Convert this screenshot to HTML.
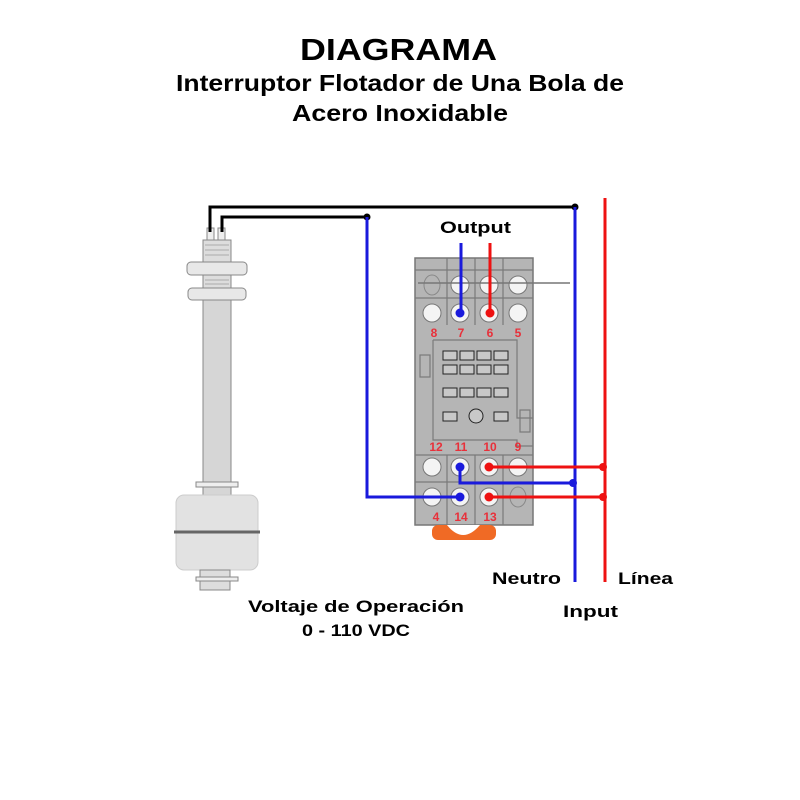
<!DOCTYPE html>
<html><head><meta charset="utf-8"><style>
html,body{margin:0;padding:0;background:#fff;}
svg{display:block}
text{font-family:"Liberation Sans",sans-serif;font-weight:bold;}
</style></head><body>
<svg width="800" height="800" viewBox="0 0 800 800" xmlns="http://www.w3.org/2000/svg">
<rect width="800" height="800" fill="#fff"/>
<text x="300" y="60" font-size="31" textLength="197" lengthAdjust="spacingAndGlyphs" fill="#000">DIAGRAMA</text>
<text x="176" y="91" font-size="23" textLength="448" lengthAdjust="spacingAndGlyphs" fill="#000">Interruptor Flotador de Una Bola de</text>
<text x="292" y="121" font-size="23" textLength="216" lengthAdjust="spacingAndGlyphs" fill="#000">Acero Inoxidable</text>

<!-- float switch -->
<g stroke="#888" stroke-width="1" fill="#e8e8e8">
<rect x="207" y="228" width="7" height="12" fill="#eee"/>
<rect x="218" y="228" width="7" height="12" fill="#eee"/>
<rect x="203" y="240" width="28" height="22" fill="#ddd"/>
<rect x="187" y="262" width="60" height="13" rx="4"/>
<rect x="203" y="275" width="28" height="13" fill="#ddd"/>
<rect x="188" y="288" width="58" height="12" rx="4"/>
<rect x="203" y="300" width="28" height="185" fill="#d6d6d6"/>
<rect x="196" y="482" width="42" height="5" fill="#eee"/>
<rect x="203" y="487" width="28" height="9" fill="#d6d6d6"/>
<rect x="176" y="495" width="82" height="75" rx="8" fill="#e2e2e2" stroke="#ccc"/>
<rect x="200" y="570" width="30" height="20" fill="#ddd"/>
<rect x="196" y="577" width="42" height="4" fill="#eee"/>
</g>
<line x1="174" y1="532" x2="260" y2="532" stroke="#666" stroke-width="3"/>
<g stroke="#999" stroke-width="0.8" fill="none">
<line x1="205" y1="245" x2="229" y2="245"/><line x1="205" y1="250" x2="229" y2="250"/><line x1="205" y1="255" x2="229" y2="255"/>
<line x1="205" y1="280" x2="229" y2="280"/><line x1="205" y1="284" x2="229" y2="284"/>
</g>

<!-- black wires -->
<polyline points="210,232 210,207 575,207" fill="none" stroke="#000" stroke-width="3"/>
<polyline points="222,232 222,217 367,217" fill="none" stroke="#000" stroke-width="3"/>
<circle cx="575" cy="207" r="3.5" fill="#000"/>
<circle cx="367" cy="217" r="3.5" fill="#000"/>

<!-- relay -->
<rect x="415" y="258" width="118" height="267" fill="#b5b5b5" stroke="#777" stroke-width="1.5"/>
<rect x="432" y="525" width="64" height="15" rx="6" fill="#f06a25"/>
<path d="M447 525 Q463 545 480 525" fill="#fff" stroke="none"/>
<g stroke="#7a7a7a" stroke-width="1.2" fill="none">
<line x1="447" y1="258" x2="447" y2="325"/><line x1="475" y1="258" x2="475" y2="325"/><line x1="503" y1="258" x2="503" y2="325"/>
<line x1="415" y1="298" x2="533" y2="298"/><line x1="415" y1="270" x2="533" y2="270"/>
<line x1="447" y1="455" x2="447" y2="525"/><line x1="475" y1="455" x2="475" y2="525"/><line x1="503" y1="455" x2="503" y2="525"/>
<line x1="415" y1="482" x2="533" y2="482"/><line x1="415" y1="455" x2="533" y2="455"/>
<path d="M433 340 H517 V418 H533 M433 340 V440 H517 V446 H533"/>
<rect x="420" y="355" width="10" height="22"/>
<rect x="520" y="410" width="10" height="22"/>
</g>
<g stroke="#222" stroke-width="1" fill="#c8c8c8">
<rect x="443" y="351" width="14" height="9"/><rect x="460" y="351" width="14" height="9"/><rect x="477" y="351" width="14" height="9"/><rect x="494" y="351" width="14" height="9"/>
<rect x="443" y="365" width="14" height="9"/><rect x="460" y="365" width="14" height="9"/><rect x="477" y="365" width="14" height="9"/><rect x="494" y="365" width="14" height="9"/>
<rect x="443" y="388" width="14" height="9"/><rect x="460" y="388" width="14" height="9"/><rect x="477" y="388" width="14" height="9"/><rect x="494" y="388" width="14" height="9"/>
<rect x="443" y="412" width="14" height="9"/><rect x="494" y="412" width="14" height="9"/>
<circle cx="476" cy="416" r="7"/>
</g>
<g stroke="#777" stroke-width="1" fill="#f4f4f4">
<circle cx="460" cy="285" r="9"/><circle cx="489" cy="285" r="9"/><circle cx="518" cy="285" r="9"/>
<circle cx="432" cy="313" r="9"/><circle cx="460" cy="313" r="9"/><circle cx="489" cy="313" r="9"/><circle cx="518" cy="313" r="9"/>
<circle cx="432" cy="467" r="9"/><circle cx="460" cy="467" r="9"/><circle cx="489" cy="467" r="9"/><circle cx="518" cy="467" r="9"/>
<circle cx="432" cy="497" r="9"/><circle cx="460" cy="497" r="9"/><circle cx="489" cy="497" r="9"/>
</g>
<ellipse cx="432" cy="285" rx="8" ry="10" fill="none" stroke="#888"/>
<ellipse cx="518" cy="497" rx="8" ry="10" fill="none" stroke="#888"/>
<line x1="418" y1="283" x2="570" y2="283" stroke="#777" stroke-width="1.5"/>
<g fill="#e8303a" font-size="12" text-anchor="middle" style="font-weight:normal">
<text x="434" y="337">8</text><text x="461" y="337">7</text><text x="490" y="337">6</text><text x="518" y="337">5</text>
<text x="436" y="451">12</text><text x="461" y="451">11</text><text x="490" y="451">10</text><text x="518" y="451">9</text>
<text x="436" y="521">4</text><text x="461" y="521">14</text><text x="490" y="521">13</text>
</g>

<!-- colored wires -->
<line x1="575" y1="207" x2="575" y2="582" stroke="#1a1adc" stroke-width="3"/>
<line x1="605" y1="198" x2="605" y2="582" stroke="#ee1111" stroke-width="3"/>
<polyline points="367,217 367,497 460,497" fill="none" stroke="#1a1adc" stroke-width="3"/>
<polyline points="460,467 460,483 575,483" fill="none" stroke="#1a1adc" stroke-width="3"/>
<line x1="489" y1="467" x2="605" y2="467" stroke="#ee1111" stroke-width="3"/>
<line x1="489" y1="497" x2="605" y2="497" stroke="#ee1111" stroke-width="3"/>
<line x1="461" y1="243" x2="461" y2="313" stroke="#1a1adc" stroke-width="3"/>
<line x1="490" y1="243" x2="490" y2="313" stroke="#ee1111" stroke-width="3"/>
<circle cx="460" cy="313" r="4.5" fill="#1a1adc"/>
<circle cx="490" cy="313" r="4.5" fill="#ee1111"/>
<circle cx="460" cy="467" r="4.5" fill="#1a1adc"/>
<circle cx="460" cy="497" r="4.5" fill="#1a1adc"/>
<circle cx="489" cy="467" r="4.5" fill="#ee1111"/>
<circle cx="489" cy="497" r="4.5" fill="#ee1111"/>
<circle cx="573" cy="483" r="4" fill="#1a1adc"/>
<circle cx="603" cy="467" r="4" fill="#ee1111"/>
<circle cx="603" cy="497" r="4" fill="#ee1111"/>

<text x="440" y="233" font-size="17" textLength="71" lengthAdjust="spacingAndGlyphs" fill="#000">Output</text>
<text x="492" y="584" font-size="17" textLength="69" lengthAdjust="spacingAndGlyphs" fill="#000">Neutro</text>
<text x="618" y="584" font-size="17" textLength="55" lengthAdjust="spacingAndGlyphs" fill="#000">Línea</text>
<text x="563" y="617" font-size="17" textLength="55" lengthAdjust="spacingAndGlyphs" fill="#000">Input</text>
<text x="248" y="612" font-size="17" textLength="216" lengthAdjust="spacingAndGlyphs" fill="#000">Voltaje de Operación</text>
<text x="302" y="636" font-size="17" textLength="108" lengthAdjust="spacingAndGlyphs" fill="#000">0 - 110 VDC</text>
</svg>
</body></html>
